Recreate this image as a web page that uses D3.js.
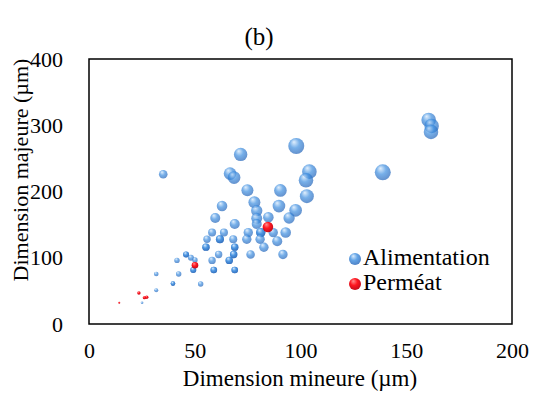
<!DOCTYPE html>
<html>
<head>
<meta charset="utf-8">
<script src="https://cdn.jsdelivr.net/npm/d3@7"></script>
<style>
  body { margin: 0; background: #fff; }
  text { font-family: "Liberation Serif", "Times New Roman", serif; fill: #000; }
</style>
</head>
<body>
<svg></svg>
<script>
// Alimentation (feed) - repeated points are stacked duplicates (look darker)
const alimX = [35.1, 71.7, 98, 160.6, 162, 161.7, 138.9, 66.7, 68.6, 104.2, 102.6, 103,
  74.9, 90.5, 78.2, 89.8, 97.7, 62.9, 79.3, 59.7, 79.3, 84.8, 94.6, 68.9, 79.3,
  81.2, 81.2, 75.3, 87.1, 93, 74.6, 80.9, 89, 82.7, 76.4, 91.7, 58.2, 63.8,
  61.9, 61.9, 55.8, 68.2, 55.3, 55.3, 68.9, 68.9, 61.3, 68.4, 68.4, 58.2,
  66.3, 66.3, 59, 59, 68.9, 68.9, 45.9, 45.9, 48.2, 50.1, 49.3, 49.3, 41.6,
  42.4, 31.8, 39.7, 39.7, 52.8, 31.8, 25.1];
const alimY = [226, 256, 268.7, 308, 299, 290, 229, 227, 221, 230, 217, 193,
  202, 201.6, 183.6, 178, 171.6, 178, 171, 160, 159.5, 161, 160, 151, 151,
  138, 138, 138, 138, 138, 128, 128, 125, 115.8, 105, 105, 138, 138,
  128, 128, 128, 128, 116, 116, 116, 116, 105, 105, 105, 96,
  96, 96, 81.5, 81.5, 81.5, 81.5, 105, 105, 100, 96.6, 81.5, 81.5, 96,
  75.5, 75.5, 61, 61, 60.4, 51, 32];
const alimSize = [18.5, 45, 64, 53, 53, 53, 64, 40, 40, 53, 53, 49,
  36, 40, 36, 40, 40, 28, 32, 25, 30, 28, 32, 25, 25,
  22, 22, 22, 22, 28, 22, 22, 25, 22, 18.5, 22, 16, 16,
  16, 16, 13.7, 16, 13.7, 13.7, 13.7, 13.7, 13.7, 13.7, 13.7, 13.7,
  13.7, 13.7, 11, 11, 11, 11, 9, 9, 9, 7.3, 9, 9, 7.3,
  7.3, 5.3, 5.3, 5.3, 7.3, 4, 1.7];

// Perméat
const permX = [84.6, 50.1, 23.6, 26.2, 27.3, 14.3];
const permY = [146.4, 88.6, 46.8, 39.8, 40.3, 32];
const permSize = [28, 11, 2.9, 2.9, 2.9, 1];

const xTicks = [0, 50, 100, 150, 200];
const yTicks = [0, 100, 200, 300, 400];

const width = 551;
const height = 397;
const margin = { top: 59, right: 39, bottom: 73, left: 89 };

const svg = d3.select("svg").attr("width", width).attr("height", height);

const xScale = d3.scaleLinear().domain([0, 200]).range([margin.left, width - margin.right]);
const yScale = d3.scaleLinear().domain([0, 400]).range([height - margin.bottom, margin.top]);
const rScale = d3.scaleSqrt().domain([0, 64]).range([0, 8]);

// sphere-like gradients
const defs = svg.append("defs");
const makeGrad = (id, light, mid, dark) => {
  const g = defs.append("radialGradient").attr("id", id)
    .attr("cx", "0.45").attr("cy", "0.4").attr("r", "0.6")
    .attr("fx", "0.35").attr("fy", "0.25");
  g.append("stop").attr("offset", "0%").attr("stop-color", light);
  g.append("stop").attr("offset", "50%").attr("stop-color", mid);
  g.append("stop").attr("offset", "100%").attr("stop-color", dark);
};
makeGrad("gBlue", "#d4e8fc", "#3d8ee0", "#2263b8");
makeGrad("gRed", "#ff8a8a", "#ff0a14", "#c00010");

const alim = alimX.map((x, i) => ({ x, y: alimY[i], s: alimSize[i] }));
const perm = permX.map((x, i) => ({ x, y: permY[i], s: permSize[i] }));

// frame
svg.append("rect")
  .attr("x", margin.left).attr("y", margin.top)
  .attr("width", width - margin.left - margin.right)
  .attr("height", height - margin.top - margin.bottom)
  .attr("fill", "none").attr("stroke", "#000").attr("stroke-width", 1.5);

const drawBubbles = (data, grad, op) => {
  svg.append("g")
    .selectAll("circle")
    .data(data.slice().sort((a, b) => b.s - a.s))
    .enter()
    .append("circle")
    .attr("cx", (d) => xScale(d.x))
    .attr("cy", (d) => yScale(d.y))
    .attr("r", (d) => rScale(d.s))
    .attr("fill", `url(#${grad})`)
    .attr("fill-opacity", op);
};
drawBubbles(alim, "gBlue", 0.7);
drawBubbles(perm, "gRed", 0.95);

// axes
const xAxis = d3.axisBottom(xScale).tickValues(xTicks).tickSize(0).tickPadding(18);
const yAxis = d3.axisLeft(yScale).tickValues(yTicks).tickSize(0).tickPadding(26);

const gx = svg.append("g")
  .attr("transform", `translate(0, ${height - margin.bottom})`)
  .call(xAxis);
const gy = svg.append("g")
  .attr("transform", `translate(${margin.left}, 0)`)
  .call(yAxis);
[gx, gy].forEach((g) => {
  g.select(".domain").remove();
  g.selectAll("text").attr("font-family", "Liberation Serif").attr("font-size", 22).attr("fill", "#000");
});

// titles
svg.append("text").attr("x", 259).attr("y", 45).attr("text-anchor", "middle")
  .attr("font-size", 25).text("(b)");
svg.append("text").attr("x", 300).attr("y", 386).attr("text-anchor", "middle")
  .attr("font-size", 23).text("Dimension mineure (µm)");
svg.append("text").attr("transform", "translate(28, 170) rotate(-90)")
  .attr("text-anchor", "middle").attr("font-size", 22).text("Dimension majeure (µm)");

// legend
const legend = [
  { name: "Alimentation", grad: "gBlue", op: 0.8, y: 259 },
  { name: "Perméat", grad: "gRed", op: 0.95, y: 284 },
];
legend.forEach((l) => {
  svg.append("circle").attr("cx", 355).attr("cy", l.y).attr("r", 6)
    .attr("fill", `url(#${l.grad})`).attr("fill-opacity", l.op);
  svg.append("text").attr("x", 363).attr("y", l.y + 6).attr("font-size", 24).text(l.name);
});
</script>
</body>
</html>
